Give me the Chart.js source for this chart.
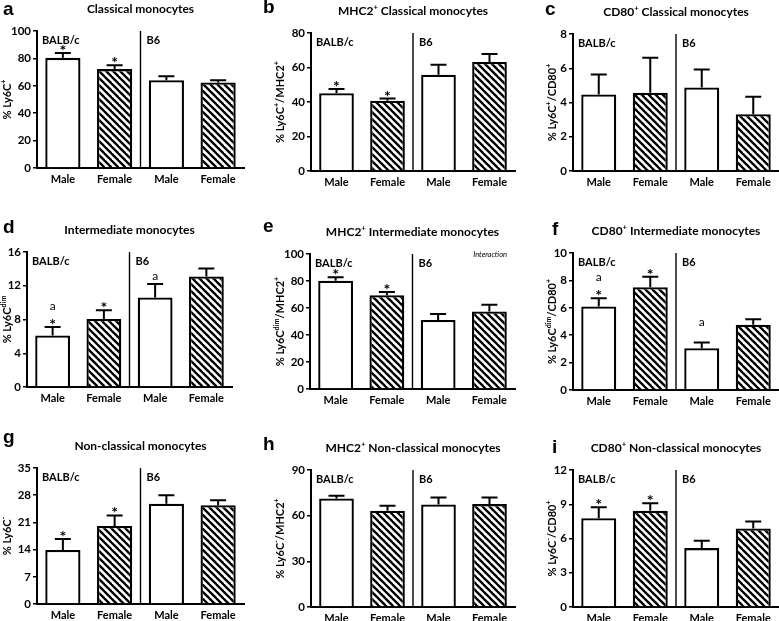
<!DOCTYPE html>
<html>
<head>
<meta charset="utf-8">
<script src="https://cdn.jsdelivr.net/npm/chart.js@4.4.1/dist/chart.umd.min.js"></script>
<style>
  body { margin: 0; background: #fff; }
  #wrap { position: relative; width: 779px; height: 621px; overflow: hidden; }
  #wrap canvas { position: absolute; }
</style>
</head>
<body>
<div id="wrap"></div>
<script>
const categories = ['Male', 'Female', 'Male', 'Female'];
const strains = ['BALB/c', 'B6'];

// bar order: BALB/c male, BALB/c female, B6 male, B6 female (mean, SEM)
const classicalMean = [80.4, 72.2, 64.0, 62.4];
const classicalSem = [3.6, 2.8, 3.0, 1.6];
const mhc2ClassicalMean = [45.1, 40.7, 55.8, 63.2];
const mhc2ClassicalSem = [2.4, 1.3, 5.8, 4.6];
const cd80ClassicalMean = [4.47, 4.57, 4.88, 3.31];
const cd80ClassicalSem = [1.17, 2.04, 1.05, 1.03];
const intermediateMean = [6.1, 8.07, 10.6, 13.1];
const intermediateSem = [1.0, 1.03, 1.6, 0.95];
const mhc2IntermediateMean = [80.2, 69.4, 51.1, 57.5];
const mhc2IntermediateSem = [2.5, 2.4, 4.5, 5.0];
const cd80IntermediateMean = [6.1, 7.5, 3.05, 4.76];
const cd80IntermediateSem = [0.6, 0.77, 0.41, 0.41];
const nonClassicalMean = [13.9, 20.1, 25.8, 25.4];
const nonClassicalSem = [2.8, 2.7, 2.2, 1.3];
const mhc2NonClassicalMean = [71.3, 63.2, 67.4, 67.6];
const mhc2NonClassicalSem = [1.8, 3.3, 4.6, 4.4];
const cd80NonClassicalMean = [7.78, 8.42, 5.16, 6.87];
const cd80NonClassicalSem = [0.96, 0.67, 0.64, 0.62];

const yMax = [100, 80, 8, 16, 100, 10, 35, 90, 12];
const yStep = [20, 20, 2, 4, 20, 2, 7, 30, 3];

// marks above bars, bottom to top ('' keeps an empty slot)
const starsOnly = [['*'], ['*'], [], []];
const noMarks = [[], [], [], []];
const intermediateMarks = [['*', 'a'], ['*'], ['a'], []];
const cd80IntermediateMarks = [['*', 'a'], ['*'], ['', 'a'], []];

// '^' = superscript piece
const titles = [
  ['Classical monocytes'],
  ['MHC2', '^+', ' Classical monocytes'],
  ['CD80', '^+', ' Classical monocytes'],
  ['Intermediate monocytes'],
  ['MHC2', '^+', ' Intermediate monocytes'],
  ['CD80', '^+', ' Intermediate monocytes'],
  ['Non-classical monocytes'],
  ['MHC2', '^+', ' Non-classical monocytes'],
  ['CD80', '^+', ' Non-classical monocytes']
];
const yTitles = [
  ['% Ly6C', '^+'],
  ['% Ly6C', '^+', '/MHC2', '^+'],
  ['% Ly6C', '^+', '/CD80', '^+'],
  ['% Ly6C', '^dim'],
  ['% Ly6C', '^dim', '/MHC2', '^+'],
  ['% Ly6C', '^dim', '/CD80', '^+'],
  ['% Ly6C', '^-'],
  ['% Ly6C', '^-', '/MHC2', '^+'],
  ['% Ly6C', '^-', '/CD80', '^+']
];
const letters = ['a', 'b', 'c', 'd', 'e', 'f', 'g', 'h', 'i'];

const panels = [
  { mean: classicalMean, sem: classicalSem, marks: starsOnly },
  { mean: mhc2ClassicalMean, sem: mhc2ClassicalSem, marks: starsOnly },
  { mean: cd80ClassicalMean, sem: cd80ClassicalSem, marks: noMarks },
  { mean: intermediateMean, sem: intermediateSem, marks: intermediateMarks },
  { mean: mhc2IntermediateMean, sem: mhc2IntermediateSem, marks: starsOnly, note: 'Interaction' },
  { mean: cd80IntermediateMean, sem: cd80IntermediateSem, marks: cd80IntermediateMarks },
  { mean: nonClassicalMean, sem: nonClassicalSem, marks: starsOnly },
  { mean: mhc2NonClassicalMean, sem: mhc2NonClassicalSem, marks: noMarks },
  { mean: cd80NonClassicalMean, sem: cd80NonClassicalSem, marks: starsOnly }
];

// layout (panel-local px)
const colX = [0, 260, 519], colW = [260, 259, 260];
const rowY = [0, 205, 410], rowH = [205, 205, 211];
const boxes = [
  { left: 37, right: 244, top: 31, bottom: 168 },
  { left: 51, right: 255, top: 33, bottom: 171 },
  { left: 54, right: 260, top: 34, bottom: 171 },
  { left: 27, right: 232, top: 47, bottom: 182 },
  { left: 50, right: 255, top: 49, bottom: 184 },
  { left: 54, right: 260, top: 48, bottom: 185 },
  { left: 37, right: 244, top: 58, bottom: 194 },
  { left: 51, right: 255, top: 60, bottom: 197 },
  { left: 54, right: 260, top: 60, bottom: 197 }
];
const yTitleX = [7, 20, 33, 7, 20, 33, 7, 20, 33];
const letterPos = [[3, 15], [3, 13], [26, 15], [3, 28], [3, 27], [33, 30], [3, 33], [3, 40], [33, 43]];

const FONT = 'Lato, "Open Sans", sans-serif';
const font = (size, weight) => (weight || 'bold') + ' ' + size + 'px ' + FONT;

function makeHatch() {
  const s = 7, c = document.createElement('canvas');
  c.width = s; c.height = s;
  const g = c.getContext('2d');
  g.fillStyle = '#fff'; g.fillRect(0, 0, s, s);
  g.strokeStyle = '#000'; g.lineWidth = 2.3; g.lineCap = 'square';
  for (let k = -1; k <= 1; k++) {
    g.beginPath(); g.moveTo(k * s, 0); g.lineTo(k * s + s, s); g.stroke();
  }
  return g.createPattern(c, 'repeat');
}

function richWidth(ctx, segs, size) {
  let w = 0;
  segs.forEach(t => {
    const sup = t[0] === '^';
    ctx.font = font(sup ? size * 0.65 : size);
    w += ctx.measureText(sup ? t.slice(1) : t).width;
  });
  return w;
}

function drawRich(ctx, segs, x, y, size) {
  let cx = x - richWidth(ctx, segs, size) / 2;
  ctx.textAlign = 'left';
  ctx.textBaseline = 'alphabetic';
  segs.forEach(t => {
    const sup = t[0] === '^';
    const s = sup ? t.slice(1) : t;
    ctx.font = font(sup ? size * 0.65 : size);
    ctx.fillText(s, cx, sup ? y - size * 0.42 : y);
    cx += ctx.measureText(s).width;
  });
}

const extras = {
  id: 'extras',
  afterDatasetsDraw(chart, args, opts) {
    const ctx = chart.ctx, area = chart.chartArea;
    const y = chart.scales.y;
    const bars = chart.getDatasetMeta(0).data;
    ctx.save();
    ctx.strokeStyle = '#000';
    ctx.fillStyle = '#000';

    // upper error bars
    ctx.lineWidth = 2;
    bars.forEach((b, j) => {
      const top = y.getPixelForValue(opts.mean[j] + opts.sem[j]);
      ctx.beginPath();
      ctx.moveTo(b.x, b.y);
      ctx.lineTo(b.x, top);
      ctx.moveTo(b.x - 8, top);
      ctx.lineTo(b.x + 8, top);
      ctx.stroke();

      // significance marks
      let base = top;
      opts.marks[j].forEach(m => {
        ctx.textAlign = 'center';
        ctx.textBaseline = 'alphabetic';
        if (m === 'a') {
          ctx.font = font(12, 'normal');
          ctx.fillText(m, b.x, base - 4);
          base -= 14;
        } else {
          ctx.font = font(16);
          if (m) ctx.fillText(m, b.x, base + 3);
          base -= 13;
        }
      });
    });

    // strain divider
    const dx = (bars[1].x + bars[2].x) / 2;
    ctx.lineWidth = 1.4;
    ctx.beginPath();
    ctx.moveTo(dx, area.top);
    ctx.lineTo(dx, area.bottom);
    ctx.stroke();

    ctx.font = font(11);
    ctx.textAlign = 'left';
    ctx.textBaseline = 'alphabetic';
    ctx.fillText(strains[0], area.left + 5, area.top + 13);
    ctx.fillText(strains[1], dx + 6, area.top + 13);

    if (opts.note) {
      ctx.font = 'italic 7.5px ' + FONT;
      ctx.textAlign = 'right';
      ctx.fillText(opts.note, area.right - 8, area.top + 3);
    }

    // panel title, letter, y title
    drawRich(ctx, opts.title, (area.left + area.right) / 2, area.top - 18, 12);
    ctx.font = 'bold 19px "Liberation Sans", Arial, sans-serif';
    ctx.textAlign = 'left';
    ctx.fillText(opts.letter, opts.letterPos[0], opts.letterPos[1]);

    ctx.translate(opts.yTitleX, (area.top + area.bottom) / 2);
    ctx.rotate(-Math.PI / 2);
    drawRich(ctx, opts.yTitle, 0, 4, 11);
    ctx.restore();
  }
};

const wrap = document.getElementById('wrap');
const hatch = makeHatch();

panels.forEach((p, i) => {
  const col = i % 3, row = Math.floor(i / 3);
  const box = boxes[i];
  const cv = document.createElement('canvas');
  cv.width = colW[col];
  cv.height = rowH[row];
  cv.style.left = colX[col] + 'px';
  cv.style.top = rowY[row] + 'px';
  wrap.appendChild(cv);

  new Chart(cv, {
    type: 'bar',
    data: {
      labels: categories,
      datasets: [{
        data: p.mean,
        backgroundColor: ['#fff', hatch, '#fff', hatch],
        borderColor: '#000',
        borderWidth: 2.3,
        borderSkipped: 'bottom',
        barPercentage: 0.68,
        categoryPercentage: 1
      }]
    },
    options: {
      responsive: false,
      animation: false,
      events: [],
      layout: { padding: { left: 0, top: box.top, right: cv.width - box.right, bottom: 0 } },
      plugins: {
        legend: { display: false },
        tooltip: { enabled: false },
        extras: {
          mean: p.mean, sem: p.sem, marks: p.marks, note: p.note,
          title: titles[i], yTitle: yTitles[i], letter: letters[i],
          letterPos: letterPos[i], yTitleX: yTitleX[i]
        }
      },
      scales: {
        x: {
          grid: { display: false, drawTicks: false, tickLength: 0 },
          border: { color: '#000', width: 2 },
          ticks: { color: '#000', font: { family: FONT, size: 11, weight: 'bold' }, padding: 5, autoSkip: false, maxRotation: 0 },
          afterFit: s => { s.height = cv.height - box.bottom; }
        },
        y: {
          min: 0,
          max: yMax[i],
          ticks: { stepSize: yStep[i], color: '#000', font: { family: FONT, size: 11.5, weight: 'bold' }, padding: 2 },
          grid: { drawOnChartArea: false, tickLength: 4, color: '#000', lineWidth: 1.5 },
          border: { color: '#000', width: 2 },
          afterFit: s => { s.width = box.left; }
        }
      }
    },
    plugins: [extras]
  });
});
</script>
</body>
</html>
